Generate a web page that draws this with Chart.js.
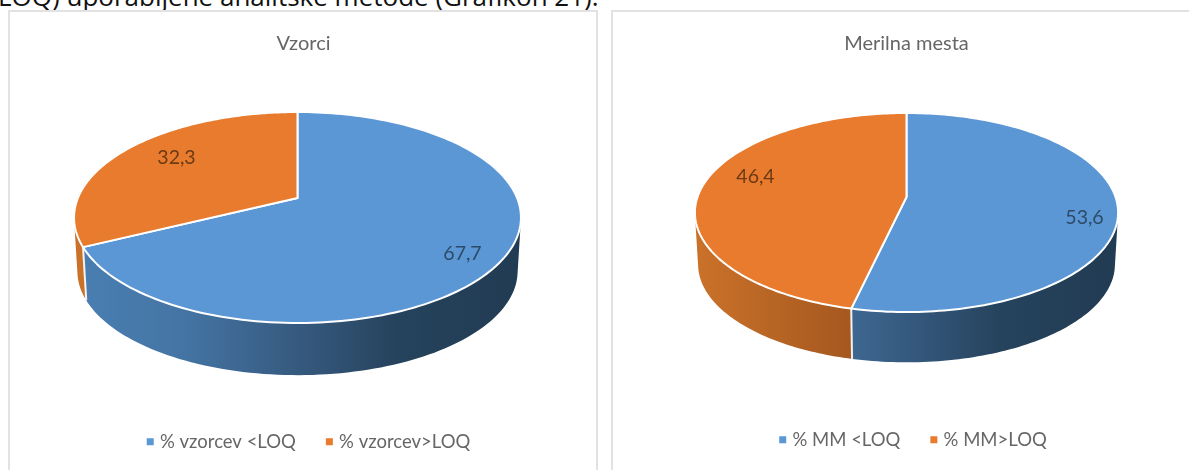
<!DOCTYPE html>
<html>
<head>
<meta charset="utf-8">
<style>
  html, body { margin: 0; padding: 0; background: #fff; width: 1189px; height: 470px; overflow: hidden; }
  #caption { position: absolute; left: -2px; top: -22px; font: 26px "Open Sans", sans-serif; color: #111; white-space: nowrap; }
  .panel { position: absolute; top: 10px; width: 590px; height: 472px; border: 2px solid #e2e2e2; box-sizing: border-box; }
  .panel canvas { position: absolute; left: -1px; top: -1px; }
  #panelLeft { left: 8px; }
  #panelRight { left: 611px; }
</style>
<script src="https://cdn.jsdelivr.net/npm/chart.js@4"></script>
</head>
<body>
<div id="caption">LOQ) uporabljene analitske metode (Grafikon 21).</div>
<div class="panel" id="panelLeft"><canvas id="samplesChart" width="589" height="470"></canvas></div>
<div class="panel" id="panelRight"><canvas id="sitesChart" width="589" height="470"></canvas></div>
<script>
const samplesLabels = ["% vzorcev <LOQ", "% vzorcev>LOQ"];
const samplesValues = [67.7, 32.3];
const sitesLabels = ["% MM <LOQ", "% MM>LOQ"];
const sitesValues = [53.6, 46.4];

const topColors = ["#5b97d5", "#e97b2e"];
// wall shading runs left to right across the whole pie
const wallStops = [
  [[0, "#4a7fb3"], [0.25, "#4474a3"], [0.5, "#365a7f"], [0.72, "#26435d"], [1, "#213b52"]],
  [[0, "#cb722a"], [0.37, "#a5581f"], [1, "#8f4a18"]],
];

// Excel style 3D pie: the flat circle is put through a small perspective
function project(view, arc, cos, sin, lower) {
  const shrink = lower ? view.shrink : 1;
  const denom = 1 + view.perspective * sin;
  return {
    x: arc.x + (arc.outerRadius * shrink * cos) / denom,
    y: arc.y + (lower ? view.depth : 0) + (arc.outerRadius * view.tilt * shrink * sin) / denom,
  };
}

function rimPoints(view, arc, lower) {
  const steps = 160;
  const points = [];
  for (let i = 0; i <= steps; i++) {
    const angle = arc.startAngle + ((arc.endAngle - arc.startAngle) * i) / steps;
    points.push(project(view, arc, Math.cos(angle), Math.sin(angle), lower));
  }
  return points;
}

function addQuad(ctx, q) {
  // same winding for every quad, otherwise the strip cancels out where it turns round
  let area = 0;
  q.forEach((p, n) => {
    const next = q[(n + 1) % 4];
    area += p.x * next.y - next.x * p.y;
  });
  const pts = area < 0 ? q.slice().reverse() : q;
  pts.forEach((p, n) => (n ? ctx.lineTo(p.x, p.y) : ctx.moveTo(p.x, p.y)));
  ctx.closePath();
}

const pie3d = {
  id: "pie3d",
  afterLayout(chart, args, view) {
    // the pie sits off the canvas centre, so the area is set by hand
    const area = chart.chartArea;
    area.left = view.cx - view.radius;
    area.right = view.cx + view.radius;
    area.top = view.cy - view.radius;
    area.bottom = view.cy + view.radius;
    area.width = area.height = view.radius * 2;
    chart.legend.left += view.legendShift[0];
    chart.legend.right += view.legendShift[0];
    chart.legend.top += view.legendShift[1];
    chart.legend.bottom += view.legendShift[1];
  },
  beforeDatasetsDraw(chart, args, view) {
    const ctx = chart.ctx;
    const arcs = chart.getDatasetMeta(0).data;
    ctx.save();
    ctx.lineJoin = "round";

    arcs.forEach((arc, i) => {
      const top = rimPoints(view, arc, false);
      const lower = rimPoints(view, arc, true);
      const gradient = ctx.createLinearGradient(arc.x - arc.outerRadius * 1.02, 0, arc.x + arc.outerRadius * 1.02, 0);
      wallStops[i].forEach((s) => gradient.addColorStop(s[0], s[1]));
      ctx.beginPath();
      for (let n = 0; n < top.length - 1; n++) {
        addQuad(ctx, [top[n], top[n + 1], lower[n + 1], lower[n]]);
      }
      ctx.fillStyle = gradient;
      ctx.fill();
    });

    // seams between the slices on the front wall
    arcs.forEach((arc) => {
      const a = project(view, arc, Math.cos(arc.endAngle), Math.sin(arc.endAngle), false);
      const b = project(view, arc, Math.cos(arc.endAngle), Math.sin(arc.endAngle), true);
      if (Math.sin(arc.endAngle) > 0) {
        ctx.beginPath();
        ctx.moveTo(a.x, a.y);
        ctx.lineTo(b.x, b.y);
        ctx.strokeStyle = "rgba(255,255,255,0.9)";
        ctx.lineWidth = 2;
        ctx.stroke();
      }
    });

    arcs.forEach((arc, i) => {
      ctx.beginPath();
      ctx.moveTo(arc.x, arc.y);
      rimPoints(view, arc, false).forEach((p) => ctx.lineTo(p.x, p.y));
      ctx.closePath();
      ctx.fillStyle = topColors[i];
      ctx.fill();
      ctx.strokeStyle = "#fff";
      ctx.lineWidth = 2;
      ctx.stroke();
    });

    ctx.font = '19.5px Lato, sans-serif';
    ctx.textAlign = "center";
    ctx.textBaseline = "middle";
    chart.data.datasets[0].data.forEach((value, i) => {
      ctx.fillStyle = view.labelColors[i];
      ctx.fillText(
        value.toFixed(1).replace(".", ","),
        arcs[i].x + view.labelAt[i][0],
        arcs[i].y + view.labelAt[i][1]
      );
    });
    ctx.restore();
    return false;
  },
};

function buildChart(canvasId, titleText, labels, values, view) {
  return new Chart(document.getElementById(canvasId), {
    type: "pie",
    data: {
      labels: labels,
      datasets: [{ data: values, backgroundColor: topColors, borderWidth: 0 }],
    },
    plugins: [pie3d],
    options: {
      responsive: false,
      animation: false,
      plugins: {
        pie3d: view,
        tooltip: { enabled: false },
        title: {
          display: true,
          text: titleText,
          color: "#666",
          font: { family: "Lato, sans-serif", size: 20, weight: "normal" },
          padding: { top: 21, bottom: 10 },
        },
        legend: {
          position: "bottom",
          labels: {
            usePointStyle: true,
            pointStyle: "rect",
            boxWidth: 1,
            boxHeight: 7,
            padding: 33,
            color: "#666",
            font: { family: "Lato, sans-serif", size: 18.5 },
          },
        },
      },
    },
  });
}

buildChart("samplesChart", "Vzorci", samplesLabels, samplesValues, {
  cx: 288.5, cy: 187, radius: 219.6, tilt: 0.464, perspective: -0.185, depth: 54, shrink: 0.985,
  labelAt: [[165, 56], [-121, -40]],
  labelColors: ["#2d4a66", "#6b3a14"],
  legendShift: [6.5, -20],
});
buildChart("sitesChart", "Merilna mesta", sitesLabels, sitesValues, {
  cx: 294.5, cy: 186, radius: 209, tilt: 0.4646, perspective: -0.156, depth: 52, shrink: 0.985,
  labelAt: [[178, 21], [-151, -20]],
  labelColors: ["#2d4a66", "#6b3a14"],
  legendShift: [8, -22],
});
</script>
</body>
</html>
